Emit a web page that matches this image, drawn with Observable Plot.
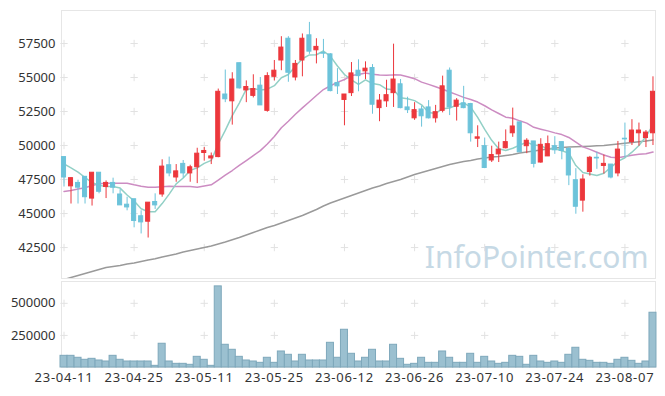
<!DOCTYPE html>
<html>
<head>
<meta charset="utf-8">
<script src="https://cdn.jsdelivr.net/npm/d3@7"></script>
<script src="https://cdn.jsdelivr.net/npm/@observablehq/plot@0.6"></script>
<style>
  html, body { margin: 0; padding: 0; background: #fff; }
  #chart { width: 665px; }
  #chart svg { display: block; }
  #vol g[aria-label="x-axis tick label"] text { letter-spacing: 0.75px; }
</style>
</head>
<body>
<div id="chart"></div>
<script>
const dates = ["23-04-11","23-04-12","23-04-13","23-04-14","23-04-17","23-04-18","23-04-19","23-04-20","23-04-21","23-04-24",
"23-04-25","23-04-26","23-04-27","23-04-28","23-05-02","23-05-03","23-05-04","23-05-08","23-05-09","23-05-10",
"23-05-11","23-05-12","23-05-15","23-05-16","23-05-17","23-05-18","23-05-19","23-05-22","23-05-23","23-05-24",
"23-05-25","23-05-26","23-05-30","23-05-31","23-06-01","23-06-02","23-06-05","23-06-07","23-06-08","23-06-09",
"23-06-12","23-06-13","23-06-14","23-06-15","23-06-16","23-06-19","23-06-20","23-06-21","23-06-22","23-06-23",
"23-06-26","23-06-27","23-06-28","23-06-29","23-06-30","23-07-03","23-07-04","23-07-05","23-07-06","23-07-07",
"23-07-10","23-07-11","23-07-12","23-07-13","23-07-14","23-07-17","23-07-18","23-07-19","23-07-20","23-07-21",
"23-07-24","23-07-25","23-07-26","23-07-27","23-07-28","23-07-31","23-08-01","23-08-02","23-08-03","23-08-04",
"23-08-07","23-08-08","23-08-09","23-08-10","23-08-11"];

const open = [49150,47000,47250,47700,46100,48000,46950,47250,46400,45650,
46050,44800,44400,45850,46400,48550,47650,48650,47950,48400,
49450,49050,49150,53750,53250,56050,54050,53650,54400,52550,
55050,56250,57850,55000,56250,58100,57000,56800,56700,54600,
53350,53850,55500,55450,55700,52750,53250,53850,54500,52800,
52000,52650,52800,52000,52550,55500,52850,53100,53050,50500,
49950,48900,49350,49800,50900,51700,49950,50300,48750,49200,
49950,50250,49750,47450,45950,48050,49100,48500,48600,47950,
50500,50250,50900,50550,50900];
const high = [49150,47650,47450,47700,48000,48000,47400,47600,46750,46200,
46050,45200,45800,46450,48950,49150,48600,48900,48550,49800,
49850,49450,54150,55550,55350,56050,54750,55200,55000,55350,
56250,58000,58000,56250,58200,59050,57850,57800,56750,55650,
53750,56100,56300,56150,55950,53750,54800,57450,54850,53550,
53150,52900,53300,52950,55100,55700,53450,54350,53100,51450,
50550,49950,50250,51150,52750,51700,50500,50300,50500,50700,
50650,50250,49850,48300,47850,49200,49500,49300,48600,50300,
51650,51900,51650,51100,55050];
const low = [46950,45700,45700,45700,45550,46450,46100,46450,45600,45200,
43950,43500,43200,45300,46200,47700,47300,47600,47300,47200,
48850,48600,49100,53150,51500,54150,53150,53500,52950,52450,
54750,55500,54650,54750,55050,56700,56000,56400,53950,53750,
51450,53600,53950,54850,52300,51750,52800,52800,52700,52350,
51850,51350,51950,51650,52400,52200,51800,52700,50250,49850,
48300,48750,48750,49750,50600,49500,49400,48350,48700,49200,
49350,48950,47050,44950,45100,47750,48250,47900,47550,47700,
49100,50000,49950,49850,50000];
const close = [47650,47600,46900,46200,48000,46600,47250,46900,45600,45450,
44450,44350,45800,45600,48450,47950,48100,47950,48400,49400,
49600,49200,53950,53400,54850,54200,54300,54150,52950,55100,
55500,57200,55350,56000,57850,56900,57250,56750,54000,54350,
53750,55300,55100,55650,53000,53300,53700,54850,52750,52600,
52600,52150,52000,52450,54350,52800,53300,52750,50900,50600,
48350,49300,49700,50250,51400,49500,50350,48650,50050,50100,
49650,49600,47800,45500,47500,49100,49050,48650,47650,49700,
50450,51100,51100,50950,53950];
const volume = [91000,91000,75700,60000,67600,54600,46800,91000,60000,46800,
46800,46800,46800,13000,185000,46800,28600,28600,21000,83200,
60000,13000,632000,177000,138000,83200,54600,46800,36400,75700,
36400,124800,99000,46800,99000,54600,54600,54600,192400,75700,
294000,106800,46800,75700,138000,46800,46800,177000,67600,21000,
28600,75700,36400,36400,124800,75700,36400,36400,106800,36400,
83200,46800,28600,36400,91000,83200,21000,91000,46800,36400,
46800,36400,99000,153700,60000,52000,36400,36400,28600,60000,
75700,52000,28600,46800,426600];
const ma5 = [48650,48350,48050,47650,47280,47070,46990,46990,46870,46360,
45930,45350,45130,45130,45730,46430,47180,47610,48170,48360,
48690,48910,50110,51110,52200,53120,54140,54180,54090,54140,
54400,54980,55220,55830,56380,56660,56670,56950,56550,55850,
55220,54830,54500,54830,54560,54470,54150,54100,53520,53440,
53300,52990,52420,52360,52710,52750,52980,53130,52820,52070,
51180,50380,49770,49640,49800,50030,50240,50030,49990,49730,
49760,49610,49440,48530,48010,47900,47790,47960,48390,48830,
49100,49510,50000,50660,51510];
const ma20 = [46620,46690,46800,46890,47060,47185,47230,47230,47230,47230,
47110,47010,46935,46935,46965,47010,46990,46990,46990,46930,
47030,47108,47460,47820,48163,48543,48895,49258,49625,50108,
50660,51303,51780,52300,52770,53218,53675,54115,54395,54643,
54850,55155,55213,55325,55233,55188,55158,55193,55183,55058,
54913,54660,54493,54315,54140,53935,53738,53538,53383,53195,
52925,52625,52355,52085,52005,51815,51648,51338,51203,51078,
50930,50803,50593,50245,49903,49718,49505,49300,49138,49093,
49198,49288,49358,49393,49520];
const ma120 = [40150,40298,40445,40592,40739,40886,41033,41107,41180,41290,
41364,41474,41584,41672,41805,41915,42025,42172,42283,42393,
42503,42613,42760,42907,43069,43238,43422,43606,43790,43973,
44120,44304,44488,44671,44855,45076,45296,45553,45774,45958,
46141,46325,46509,46693,46876,47023,47207,47354,47501,47685,
47869,48016,48163,48310,48457,48604,48714,48824,48898,49008,
49081,49155,49192,49265,49339,49449,49523,49596,49670,49743,
49816,49853,49890,49904,49927,49949,49978,50000,50051,50110,
50169,50220,50272,50331,50404];

const priceTicks = [42500, 45000, 47500, 50000, 52500, 55000, 57500];
const volumeTicks = [250000, 500000];
const dateTickIdx = [0, 10, 20, 30, 40, 50, 60, 70, 80];

const UP = "#ec373c", DOWN = "#6cc3da";
const candles = dates.map((d, i) => ({
  i, date: d, open: open[i], high: high[i], low: low[i], close: close[i],
  volume: volume[i], ma5: ma5[i], ma20: ma20[i], ma120: ma120[i]
}));
const col = d => d.close >= d.open ? UP : DOWN;

const xDomain = [-0.357, 84.36];
const font = "'Noto Sans', sans-serif";

const gridPrice = [];
for (const t of dateTickIdx) for (const p of priceTicks) gridPrice.push({i: t, p});
const gridVol = [];
for (const t of dateTickIdx) for (const v of volumeTicks) gridVol.push({i: t, v});

const price = Plot.plot({
  width: 665, height: 280,
  marginTop: 10, marginBottom: 2, marginLeft: 61, marginRight: 10,
  style: {fontFamily: font, fontSize: "13px", color: "#333", background: "#fff"},
  x: {type: "linear", domain: xDomain, axis: null},
  y: {domain: [40225, 59925], ticks: priceTicks, tickSize: 0, tickPadding: 6, tickFormat: d => String(d), label: null},
  marks: [
    Plot.frame({stroke: "#e6e6e6"}),
    Plot.dot(gridPrice, {x: "i", y: "p", symbol: "plus", r: 2.5, stroke: "#e2e2e2", strokeWidth: 1}),
    Plot.text(["InfoPointer.com"], {frameAnchor: "bottom-right", textAnchor: "end", lineAnchor: "bottom", dx: -7, dy: -11, fontSize: 30, fill: "#c6d9e5", fontFamily: font}),
    Plot.line(candles, {x: "i", y: "ma120", stroke: "#9a9a9a", strokeWidth: 1.5, clip: true}),
    Plot.line(candles, {x: "i", y: "ma20", stroke: "#cc8cc2", strokeWidth: 1.5}),
    Plot.line(candles, {x: "i", y: "ma5", stroke: "#92d0c6", strokeWidth: 1.5}),
    Plot.ruleX(candles, {x: "i", y1: "low", y2: "high", stroke: col, strokeWidth: 1}),
    Plot.rect(candles, {x1: d => d.i - 0.29, x2: d => d.i + 0.29, y1: "open", y2: "close", fill: col, stroke: col, strokeWidth: 1})
  ]
});

const vol = Plot.plot({
  width: 665, height: 116,
  marginTop: 1, marginBottom: 29, marginLeft: 61, marginRight: 10,
  style: {fontFamily: font, fontSize: "13px", color: "#333", background: "#fff"},
  x: {type: "linear", domain: xDomain, ticks: dateTickIdx, tickFormat: i => dates[i], tickSize: 0, tickPadding: 5, label: null},
  y: {domain: [0, 670000], ticks: volumeTicks, tickSize: 0, tickPadding: 6, tickFormat: d => String(d), label: null},
  marks: [
    Plot.frame({stroke: "#e6e6e6"}),
    Plot.dot(gridVol, {x: "i", y: "v", symbol: "plus", r: 2.5, stroke: "#e2e2e2", strokeWidth: 1}),
    Plot.rectY(candles, {x1: d => d.i - 0.5, x2: d => d.i + 0.5, y: "volume", fill: "#9bc0d0", stroke: "#7ea8bb", strokeWidth: 1})
  ]
});
vol.id = "vol";

const root = document.getElementById("chart");
root.appendChild(price);
root.appendChild(vol);
</script>
</body>
</html>
